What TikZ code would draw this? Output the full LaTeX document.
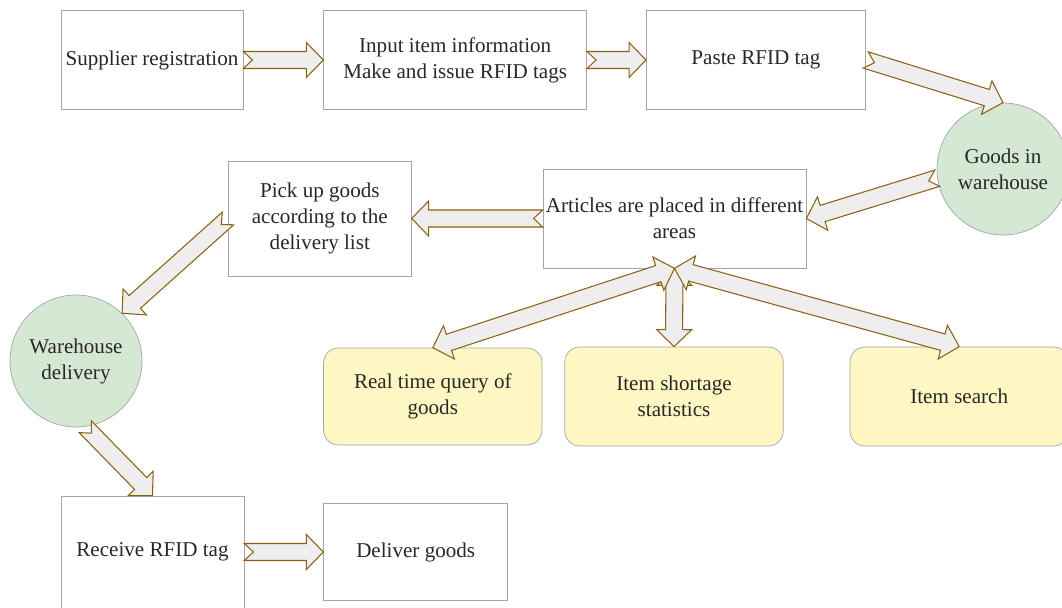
\documentclass[tikz,border=0pt]{standalone}
\usepackage{fontspec}
\setmainfont{Liberation Serif}
\usepackage{tikz}
\definecolor{boxgray}{RGB}{165, 165, 165}
\definecolor{arrowbrown}{RGB}{139, 98, 20}
\definecolor{arrowfill}{RGB}{238, 238, 238}
\definecolor{hubgreen}{RGB}{213, 232, 212}
\definecolor{taskyellow}{RGB}{254, 247, 196}
\definecolor{inkgray}{RGB}{40, 40, 40}
\usetikzlibrary{positioning, calc}

\newcommand{\fatarrow}[2]{%
  \path (#1) coordinate (fa-s) (#2) coordinate (fa-e);
  \path ($(fa-s)!0.18cm!(fa-e)$) coordinate (fa-n)
        ($(fa-e)!0.34cm!(fa-s)$) coordinate (fa-h);
  \draw[fat] ($(fa-s)!0.17cm!90:(fa-e)$) -- (fa-n) -- ($(fa-s)!0.17cm!-90:(fa-e)$)
    -- ($(fa-h)!0.17cm!90:(fa-s)$) -- ($(fa-h)!0.35cm!90:(fa-s)$) -- (fa-e)
    -- ($(fa-h)!0.35cm!-90:(fa-s)$) -- ($(fa-h)!0.17cm!-90:(fa-s)$) -- cycle;
}
\newcommand{\fatdouble}[2]{%
  \path (#1) coordinate (fd-s) (#2) coordinate (fd-e);
  \path ($(fd-s)!0.34cm!(fd-e)$) coordinate (fd-a)
        ($(fd-e)!0.34cm!(fd-s)$) coordinate (fd-b);
  \draw[fat] (fd-s) -- ($(fd-a)!0.35cm!90:(fd-e)$) -- ($(fd-a)!0.17cm!90:(fd-e)$)
    -- ($(fd-b)!0.17cm!-90:(fd-s)$) -- ($(fd-b)!0.35cm!-90:(fd-s)$) -- (fd-e)
    -- ($(fd-b)!0.35cm!90:(fd-s)$) -- ($(fd-b)!0.17cm!90:(fd-s)$)
    -- ($(fd-a)!0.17cm!-90:(fd-e)$) -- ($(fd-a)!0.35cm!-90:(fd-e)$) -- cycle;
}

\begin{document}
\begin{tikzpicture}[
    every node/.style={font=\fontsize{12}{14.8}\selectfont, text=inkgray},
    box/.style={rectangle, draw=boxgray, fill=white, align=center,
                inner sep=1pt, minimum width=3.64cm, minimum height=1.98cm},
    hub/.style={circle, draw=boxgray, fill=hubgreen, align=center,
                inner sep=0pt, minimum size=2.64cm},
    task/.style={rectangle, draw=boxgray, fill=taskyellow, align=center,
                rounded corners=0.3cm, minimum width=4.37cm, minimum height=1.98cm},
    fat/.style={draw=arrowbrown, fill=arrowfill, line width=0.6pt, line join=miter}
]
    \useasboundingbox (0,0) rectangle (21.24,-12.16);

    \node[box] (sup) at (3.04,-1.2) {Supplier registration};
    \node[box, minimum width=5.26cm, right=1.6cm of sup] (inp) {Input item information\\Make and issue RFID tags};
    \node[box, minimum width=4.38cm, right=1.18cm of inp] (paste) {Paste RFID tag};
    \node[hub] (goods) at (20.06,-3.38) {Goods in\\warehouse};

    \node[box, minimum width=5.26cm] (art) at (13.49,-4.37) {Articles are placed in different\\areas};
    \node[box, minimum width=3.66cm, minimum height=2.3cm, left=2.62cm of art] (pick) {Pick up goods\\according to the\\delivery list};
    \node[hub] (wd) at (1.52,-7.22) {Warehouse\\delivery};

    \node[task] (short) at (13.48,-7.93) {Item shortage\\statistics};
    \node[task, minimum height=1.94cm, left=0.44cm of short] (rtq) {Real time query of\\goods};
    \node[task, right=1.32cm of short] (search) {Item search};

    \node[box, minimum width=3.66cm, minimum height=2.24cm] (rec) at (3.05,-11.04) {Receive RFID tag};
    \node[box, minimum width=3.68cm, minimum height=1.94cm, right=1.58cm of rec] (del) {Deliver goods};

    \fatarrow{sup.east}{inp.west}
    \fatarrow{inp.east}{paste.west}
    \fatarrow{paste.east}{goods.north}
    \fatarrow{goods.188}{art.east}
    \fatarrow{art.west}{pick.east}
    \fatarrow{pick.west}{wd.46}
    \fatarrow{wd.-82}{rec.north}
    \fatarrow{rec.east}{del.west}

    \fatdouble{art.south}{short.north}
    \fatdouble{art.south}{rtq.north}
    \fatdouble{art.south}{search.north}
\end{tikzpicture}
\end{document}
